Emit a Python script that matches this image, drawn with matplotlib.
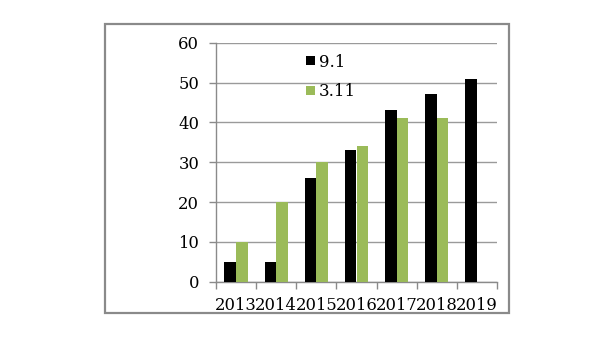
import matplotlib
matplotlib.use("Agg")
import matplotlib.pyplot as plt
import numpy as np
from matplotlib.patches import Rectangle

years = ["2013", "2014", "2015", "2016", "2017", "2018", "2019"]
series_91 = [5, 5, 26, 33, 43, 47, 51]
series_311 = [10, 20, 30, 34, 41, 41, 0]
series_names = ["9.1", "3.11"]
y_ticks = [0, 10, 20, 30, 40, 50, 60]

plt.rcParams['font.family'] = ['DejaVu Serif']

fig = plt.figure(figsize=(6, 3.38), dpi=100)
fig.patch.set_facecolor('white')

# outer frame
fig.patches.append(Rectangle((104.5/600, 1-313/338), (509-104.5)/600, (313-24)/338,
                             transform=fig.transFigure, fill=False,
                             edgecolor='#8a8a8a', linewidth=1.6, zorder=0))

ax = fig.add_axes([216/600, 1-281.7/338, (497-216)/600, (281.7-42.7)/338])
x = np.arange(len(years))
w = 0.29
ax.bar(x - w/2, series_91, width=w, color='#000000', label=series_names[0], zorder=3)
ax.bar(x + w/2, series_311, width=w, color='#9bbb59', label=series_names[1], zorder=3)

fs = 11.8
ax.set_xlim(-0.5, len(years) - 0.5)
ax.set_ylim(0, 60)
ax.set_yticks(y_ticks)
ax.set_yticklabels([str(v) for v in y_ticks], fontsize=fs)
ax.set_xticks(x)
ax.set_xticklabels(years, fontsize=fs)
ax.set_xticks(np.arange(len(years) + 1) - 0.5, minor=True)
ax.tick_params(axis='x', which='major', length=0, pad=11)
ax.tick_params(axis='x', which='minor', length=5, color='#8a8a8a', width=1)
ax.tick_params(axis='y', which='major', length=5, color='#8a8a8a', width=1, pad=7)
ax.grid(axis='y', color='#9a9a9a', linewidth=1, zorder=0)
ax.set_axisbelow(True)
for s in ['top', 'right']:
    ax.spines[s].set_visible(False)
for s in ['left', 'bottom']:
    ax.spines[s].set_color('#8a8a8a')
    ax.spines[s].set_linewidth(1)

leg = ax.legend(loc='upper left', bbox_to_anchor=(0.28, 1.0), frameon=False,
                prop={'size': 12}, handlelength=0.55, handleheight=0.45,
                handletextpad=0.25, labelspacing=0.75, borderaxespad=0.25)

fig.savefig("out.png", dpi=100, facecolor='white')
